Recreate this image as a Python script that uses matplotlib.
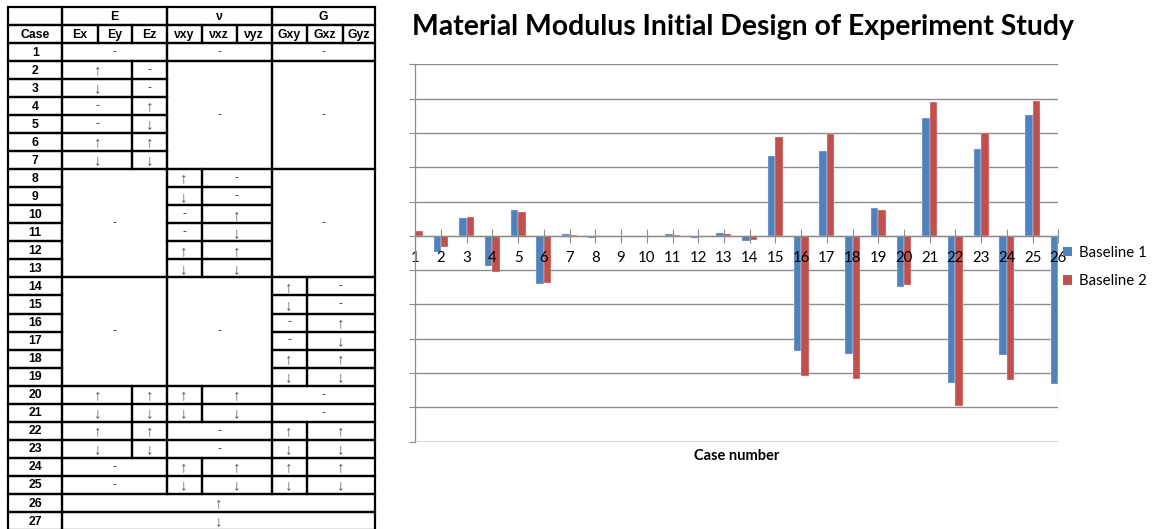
import matplotlib
matplotlib.use("Agg")
import matplotlib.pyplot as plt
from matplotlib.patches import Rectangle, Patch
import numpy as np

W, H, DPI = 1156, 529, 100

# ---------------- chart data ----------------
cases = list(range(1, 27))
baseline_1 = [0.00, -0.46, 0.51, -0.89, 0.75, -1.40, 0.06, -0.06, 0.00, 0.00,
              0.06, -0.06, 0.09, -0.16, 2.34, -3.35, 2.47, -3.44, 0.80, -1.48,
              3.44, -4.28, 2.54, -3.47, 3.53, -4.31]
baseline_2 = [0.15, -0.32, 0.55, -1.04, 0.70, -1.37, 0.03, -0.03, 0.00, 0.00,
              0.03, -0.03, 0.06, -0.12, 2.87, -4.08, 2.96, -4.16, 0.75, -1.42,
              3.90, -4.97, 3.00, -4.19, 3.94, -4.98]
series_names = ["Baseline 1", "Baseline 2"]
series_colors = ["#4F81BD", "#C0504D"]
chart_title = "Material Modulus Initial Design of Experiment Study"
x_label = "Case number"

# ---------------- design table data ----------------
UP, DN = "\u2191", "\u2193"
group_names = ["E", "\u03bd", "G"]
column_names = ["Case", "Ex", "Ey", "Ez", "\u03bdxy", "\u03bdxz", "\u03bdyz",
                "Gxy", "Gxz", "Gyz"]
# single-group steps for cases 2-7 (E), 8-13 (nu), 14-19 (G)
e_steps = [(UP, "-"), (DN, "-"), ("-", UP), ("-", DN), (UP, UP), (DN, DN)]
nu_steps = [(UP, "-"), (DN, "-"), ("-", UP), ("-", DN), (UP, UP), (DN, DN)]
g_steps = [(UP, "-"), (DN, "-"), ("-", UP), ("-", DN), (UP, UP), (DN, DN)]
# combined steps for cases 20-25: (E, nu, G); "-" means unchanged group
combo_steps = [((UP, UP), (UP, UP), "-"),
               ((DN, DN), (DN, DN), "-"),
               ((UP, UP), "-", (UP, UP)),
               ((DN, DN), "-", (DN, DN)),
               ("-", (UP, UP), (UP, UP)),
               ("-", (DN, DN), (DN, DN))]
all_steps = [UP, DN]  # cases 26, 27

# ---------------- figure ----------------
fig = plt.figure(figsize=(W / DPI, H / DPI), dpi=DPI)
fig.patch.set_facecolor("white")

# table drawn in pixel coordinates
tax = fig.add_axes([0, 0, 1, 1])
tax.set_xlim(0, W)
tax.set_ylim(H, 0)
tax.axis("off")
tax.patch.set_visible(False)

col_edges = [8.3, 62.3, 97.7, 132.3, 166.7, 201.7, 236.7, 271.7, 306.5, 343.0, 374.5]
row_top, row_h = 7.0, 18.03
group_span = [(1, 4), (4, 7), (7, 10)]
split_span = [[(1, 3), (3, 4)], [(4, 5), (5, 7)], [(7, 8), (8, 10)]]

cells = []  # (r0, r1, c0, c1, text, bold)
cells.append((0, 0, 0, 1, "", True))
for g, (c0, c1) in enumerate(group_span):
    cells.append((0, 0, c0, c1, group_names[g], True))
for c, name in enumerate(column_names):
    cells.append((1, 1, c, c + 1, name, True))
# case 1
cells.append((2, 2, 0, 1, "1", True))
for c0, c1 in group_span:
    cells.append((2, 2, c0, c1, "-", False))
# cases 2-19: one group varied at a time
for g, steps in enumerate([e_steps, nu_steps, g_steps]):
    r_first = 3 + 6 * g
    for i, (a, b) in enumerate(steps):
        r = r_first + i
        cells.append((r, r, 0, 1, str(r - 1), True))
        (a0, a1), (b0, b1) = split_span[g]
        cells.append((r, r, a0, a1, a, False))
        cells.append((r, r, b0, b1, b, False))
    for og in range(3):
        if og != g:
            c0, c1 = group_span[og]
            cells.append((r_first, r_first + 5, c0, c1, "-", False))
# cases 20-25
for i, combo in enumerate(combo_steps):
    r = 21 + i
    cells.append((r, r, 0, 1, str(r - 1), True))
    for g, val in enumerate(combo):
        if val == "-":
            c0, c1 = group_span[g]
            cells.append((r, r, c0, c1, "-", False))
        else:
            for (c0, c1), v in zip(split_span[g], val):
                cells.append((r, r, c0, c1, v, False))
# cases 26, 27
for i, v in enumerate(all_steps):
    r = 27 + i
    cells.append((r, r, 0, 1, str(r - 1), True))
    cells.append((r, r, 1, 10, v, False))

tfam = ["Liberation Sans", "DejaVu Sans"]
for r0, r1, c0, c1, txt, bold in cells:
    x0, x1 = col_edges[c0], col_edges[c1]
    y0 = row_top + r0 * row_h
    y1 = row_top + (r1 + 1) * row_h
    tax.add_patch(Rectangle((x0, y0), x1 - x0, y1 - y0, fill=False,
                            edgecolor="black", lw=1.6, clip_on=False))
    if txt:
        if txt in (UP, DN):
            tax.text((x0 + x1) / 2, (y0 + y1) / 2 + 0.3, txt, ha="center", va="center",
                     fontsize=11, color="#505050", family=tfam)
        elif txt == "-":
            tax.text((x0 + x1) / 2, (y0 + y1) / 2, txt, ha="center", va="center",
                     fontsize=8.5, color="#333333", family=tfam)
        else:
            tax.text((x0 + x1) / 2, (y0 + y1) / 2 + 0.7, txt, ha="center", va="center",
                     fontsize=8.8, fontweight="bold", color="black", family=tfam)

# ---------------- bar chart ----------------
px_l, px_r, px_t, px_b = 415.3, 1058.3, 64.3, 441.7
ax = fig.add_axes([px_l / W, 1 - px_b / H, (px_r - px_l) / W, (px_b - px_t) / H])
ax.patch.set_visible(False)

x = np.array(cases, dtype=float)
bw = 0.29
grid_c = "#8C8C8C"
for yv in range(-6, 6):
    ax.axhline(yv, color=grid_c if yv > -6 else "#C8C8C8",
               lw=1.0 if yv > -6 else 1.8, zorder=0.5)
ax.bar(x - bw / 2, baseline_1, bw, color=series_colors[0], zorder=1,
       edgecolor="#DCE6F2", linewidth=0.3)
ax.bar(x + bw / 2, baseline_2, bw, color=series_colors[1], zorder=1,
       edgecolor="#F2DCDB", linewidth=0.3)

ax.set_xlim(1, 26)
ax.set_ylim(-6, 5)
ax.set_yticks(np.arange(-6, 6))
ax.set_yticklabels([])
ax.set_xticks(x)
ax.set_xticklabels([str(c) for c in cases])
ax.spines["top"].set_visible(False)
ax.spines["right"].set_visible(False)
ax.spines["bottom"].set_position(("data", 0))
ax.spines["bottom"].set_color(grid_c)
ax.spines["left"].set_color(grid_c)
ax.spines["bottom"].set_linewidth(0.9)
ax.spines["left"].set_linewidth(0.9)
ax.tick_params(axis="y", direction="out", length=4.5, width=0.8, color=grid_c)
ax.tick_params(axis="x", direction="inout", length=9.5, width=0.8, color=grid_c,
               pad=6.5, labelsize=10.8, labelcolor="black")
for lab in ax.get_xticklabels():
    lab.set_family("Lato")

fig.text(736.7 / W, 1 - 456 / H, x_label, ha="center", va="center",
         fontsize=10.5, fontweight="bold", family="Lato")

title = fig.text(742.9 / W, 1 - 35.5 / H, chart_title, ha="center", va="baseline",
                 fontsize=20, fontweight="bold", family="Lato")
fig.canvas.draw()
tw = title.get_window_extent().width
title.set_fontsize(20 * 662.0 / tw)

handles = [Patch(facecolor=c, edgecolor="none") for c in series_colors]
fig.legend(handles, series_names, loc="center left",
           bbox_to_anchor=(1063 / W, 1 - 267 / H), frameon=False,
           prop={"family": "Lato", "size": 10.8}, handlelength=0.6,
           handleheight=0.6, handletextpad=0.45, labelspacing=0.95,
           borderpad=0.0, borderaxespad=0.0)

fig.savefig("out.png", dpi=DPI, facecolor="white")
